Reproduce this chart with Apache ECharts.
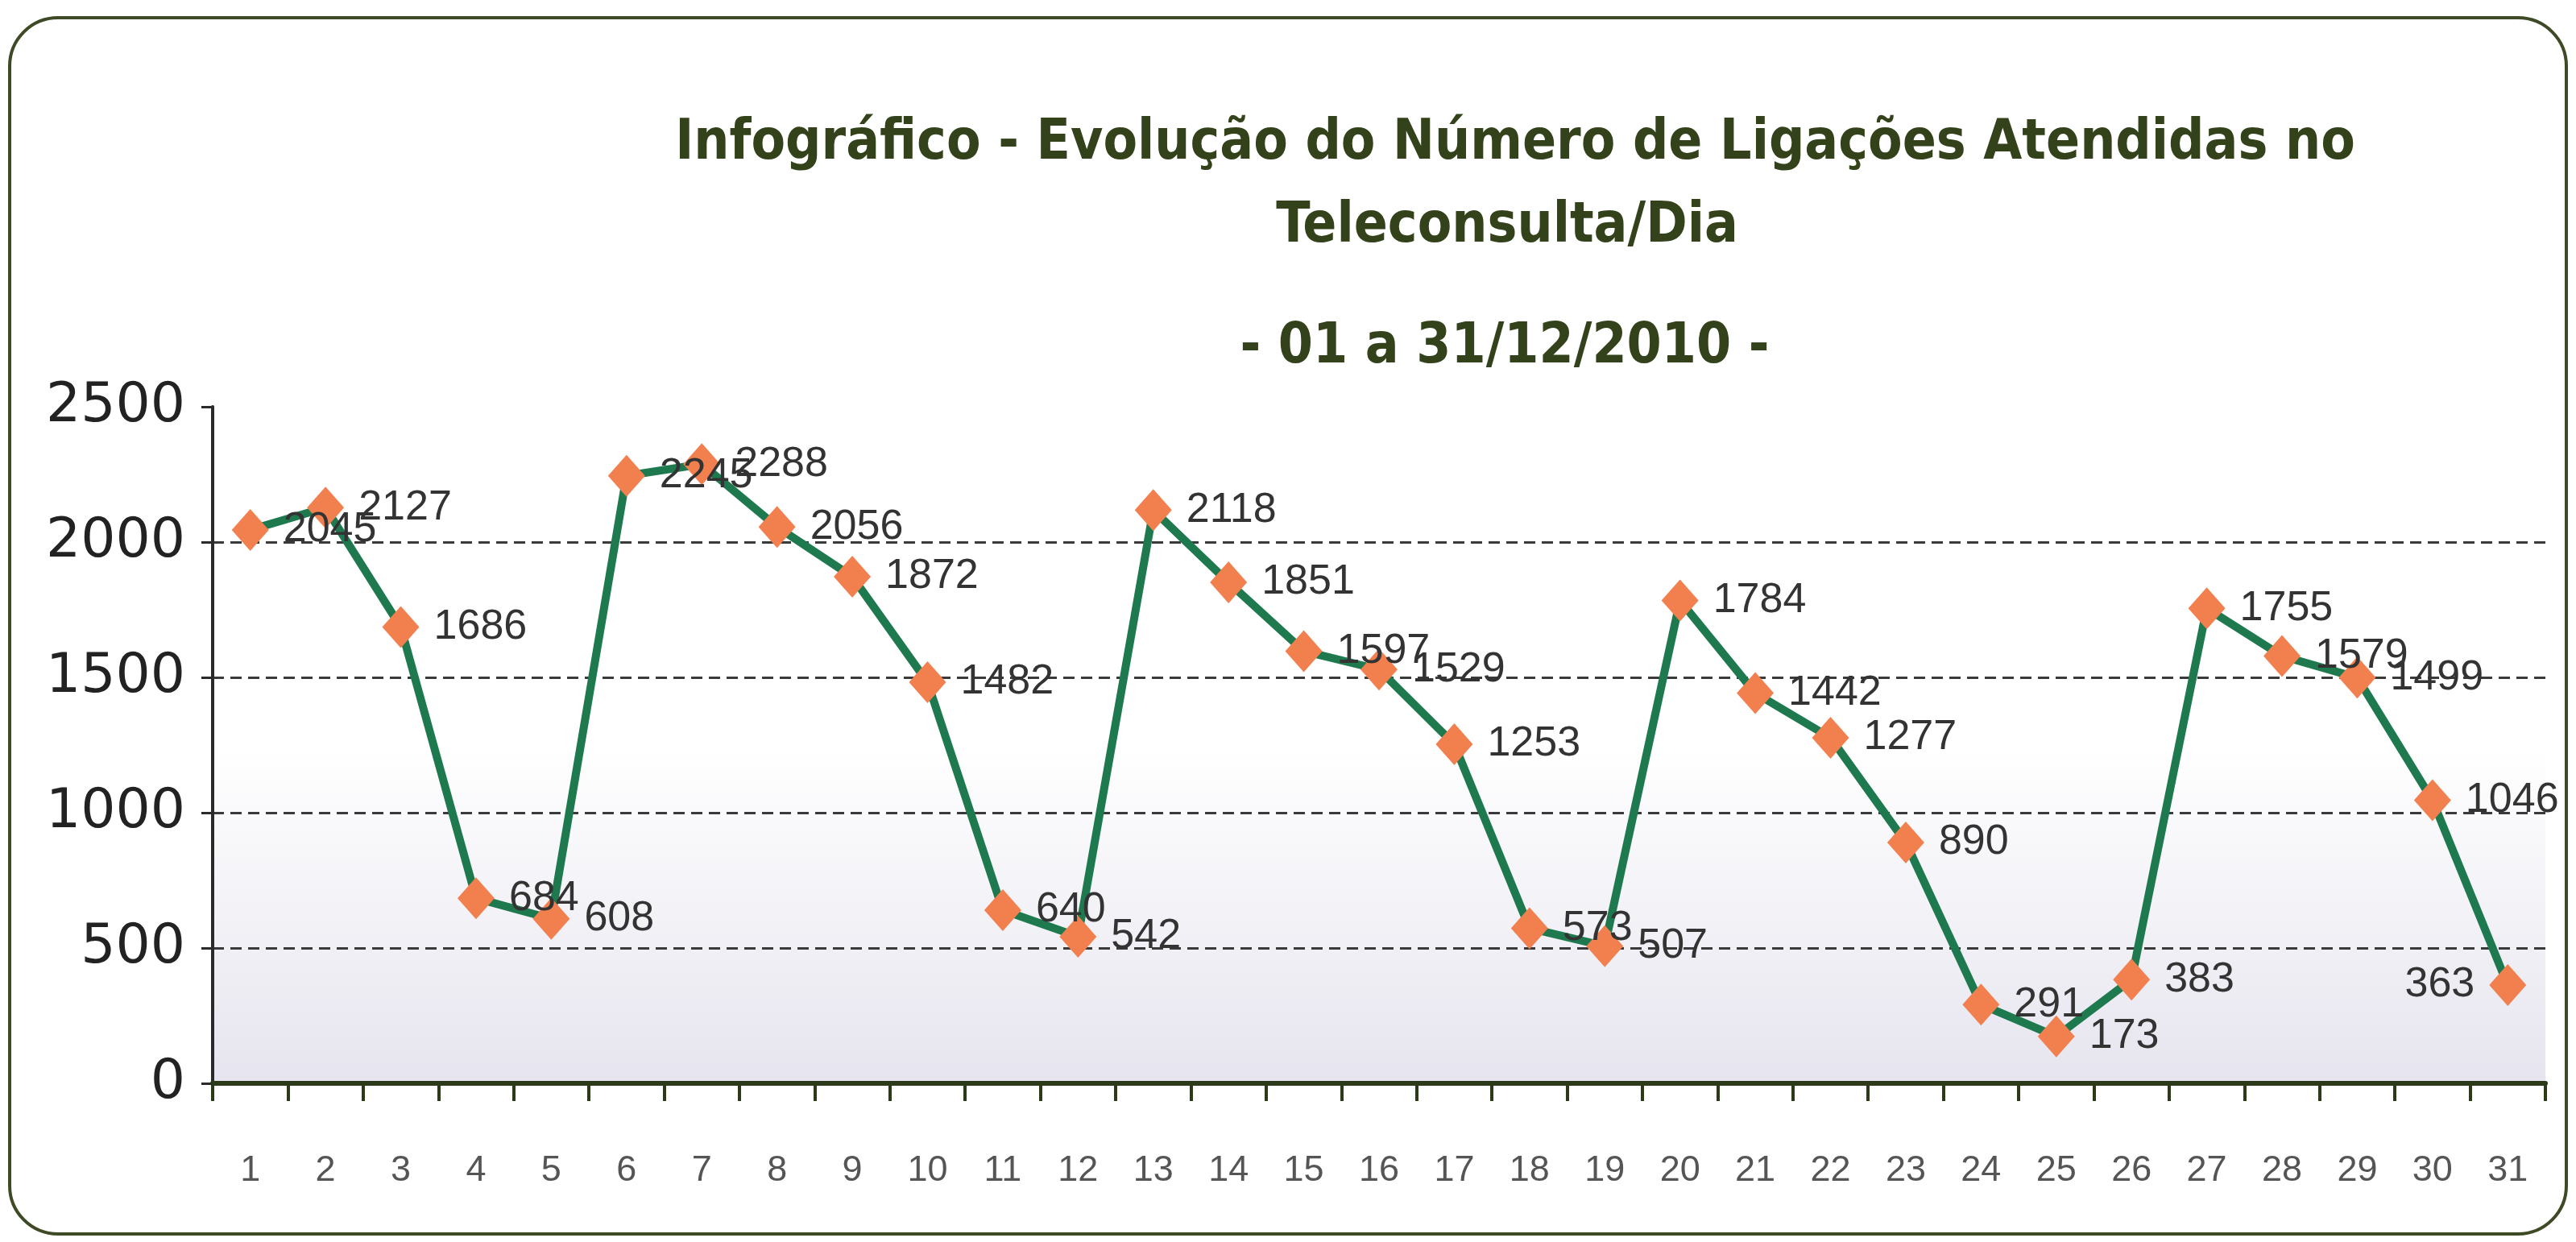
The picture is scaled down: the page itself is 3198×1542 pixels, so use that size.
<!DOCTYPE html>
<html>
<head>
<meta charset="utf-8">
<script src="https://cdn.jsdelivr.net/npm/echarts@6/dist/echarts.min.js"></script>
<style>
html,body{margin:0;padding:0;background:#fff;}
#chart{width:3198px;height:1542px;}
</style>
</head>
<body>
<div id="chart"></div>
<script>
// ---- data ----
const days = ['1','2','3','4','5','6','7','8','9','10','11','12','13','14','15','16','17','18','19','20','21','22','23','24','25','26','27','28','29','30','31'];
const calls = [2045, 2127, 1686, 684, 608, 2245, 2288, 2056, 1872, 1482, 640, 542, 2118, 1851, 1597, 1529, 1253, 573, 507, 1784, 1442, 1277, 890, 291, 173, 383, 1755, 1579, 1499, 1046, 363];
const yTicks = [0, 500, 1000, 1500, 2000, 2500];
const titleLines = [
  'Infográfico - Evolução do Número de Ligações Atendidas no',
  'Teleconsulta/Dia',
  '- 01 a 31/12/2010 -'
];

const titleFont = '"Liberation Sans Narrow", "DejaVu Sans Condensed", "Arial Narrow", sans-serif';
const titleColor = '#33421a';

const chart = echarts.init(document.getElementById('chart'), null, {renderer: 'canvas'});

const seriesData = calls.map((v, i) => {
  if (i === calls.length - 1) {
    return {value: v, label: {position: 'left'}};
  }
  return v;
});

chart.setOption({
  backgroundColor: '#ffffff',
  animation: false,
  title: [
    {text: titleLines[0], left: 1876, top: 140, textAlign: 'center',
     textStyle: {fontFamily: titleFont, fontWeight: 'bold', fontSize: 69, color: titleColor}},
    {text: titleLines[1], left: 1866, top: 243, textAlign: 'center',
     textStyle: {fontFamily: titleFont, fontWeight: 'bold', fontSize: 69, color: titleColor}},
    {text: titleLines[2], left: 1863, top: 393, textAlign: 'center',
     textStyle: {fontFamily: titleFont, fontWeight: 'bold', fontSize: 69, color: titleColor}}
  ],
  graphic: [
    {type: 'rect', z: -1, silent: true,
     shape: {x: 12, y: 22, width: 3174, height: 1510, r: 60},
     style: {fill: 'none', stroke: '#3d4a25', lineWidth: 4}}
  ],
  grid: {
    left: 264, right: 38, top: 505, bottom: 197,
    show: true, borderWidth: 0,
    backgroundColor: {
      type: 'linear', x: 0, y: 0, x2: 0, y2: 1,
      colorStops: [
        {offset: 0, color: '#ffffff'},
        {offset: 0.5, color: '#ffffff'},
        {offset: 1, color: '#e6e5ef'}
      ]
    }
  },
  xAxis: {
    type: 'category',
    data: days,
    boundaryGap: true,
    axisLine: {lineStyle: {color: '#2c3a1a', width: 6}},
    axisTick: {show: true, alignWithLabel: false, length: 22, lineStyle: {color: '#2c3a1a', width: 4}},
    axisLabel: {margin: 86, fontSize: 45, color: '#555555', fontFamily: 'Liberation Sans, Arial, sans-serif'},
    splitLine: {show: false}
  },
  yAxis: {
    type: 'value',
    min: yTicks[0], max: yTicks[yTicks.length - 1], interval: 500,
    axisLine: {show: true, lineStyle: {color: '#2a2a2a', width: 4}},
    axisTick: {show: true, length: 14, lineStyle: {color: '#2a2a2a', width: 3}},
    axisLabel: {margin: 34, fontSize: 68, color: '#222222', fontFamily: 'DejaVu Sans, sans-serif',
      formatter: (v) => String(v)},
    splitLine: {show: true, showMaxLine: false,
      lineStyle: {color: '#3a3a3a', width: 3, type: [14, 8]}}
  },
  series: [{
    type: 'line',
    data: seriesData,
    symbol: 'diamond',
    symbolSize: [46, 52],
    itemStyle: {color: '#f2804f', borderWidth: 0},
    lineStyle: {color: '#1e7a4e', width: 10},
    label: {
      show: true, position: 'right', distance: 18,
      fontSize: 52, color: '#333333', fontFamily: 'Liberation Sans, Arial, sans-serif'
    },
    labelLayout: {hideOverlap: false},
    z: 3
  }]
});
</script>
</body>
</html>
